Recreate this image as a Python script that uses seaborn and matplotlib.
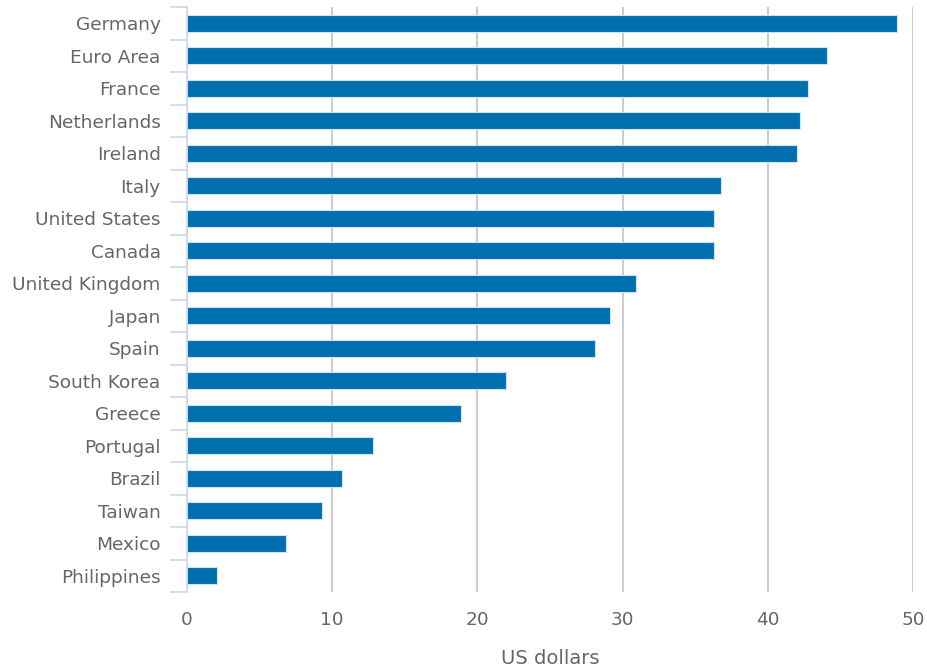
import numpy as np
import pandas as pd
import matplotlib
matplotlib.use("Agg")
import matplotlib.pyplot as plt
import seaborn as sns

countries = ["Germany", "Euro Area", "France", "Netherlands", "Ireland", "Italy",
             "United States", "Canada", "United Kingdom", "Japan", "Spain",
             "South Korea", "Greece", "Portugal", "Brazil", "Taiwan", "Mexico",
             "Philippines"]
values = [48.9, 44.1, 42.8, 42.2, 42.0, 36.8, 36.3, 36.3, 30.9, 29.1, 28.1,
          22.0, 18.9, 12.8, 10.7, 9.3, 6.8, 2.1]
x_ticks = [0, 10, 20, 30, 40, 50]

df = pd.DataFrame({"country": countries, "usd": values})

sns.set_style("white")
plt.rcParams["font.family"] = ["DejaVu Sans"]

fig = plt.figure(figsize=(9.27, 6.7), dpi=100)
ax = fig.add_axes([187 / 927, 1 - 592 / 670, (913 - 187) / 927, (592 - 7) / 670])

sns.barplot(data=df, x="usd", y="country", orient="h", color="#006fb0",
            saturation=1, width=0.52, edgecolor="#cfe3f2", linewidth=0.8, ax=ax, zorder=3)

ax.set_xlim(0, 50)
ax.set_ylim(len(countries) - 0.5, -0.5)
ax.set_xticks(x_ticks)
ax.xaxis.grid(True, color="#cccccc", linewidth=1.5, zorder=0)
ax.set_axisbelow(True)

for side in ["top", "right", "bottom"]:
    ax.spines[side].set_visible(False)
ax.spines["left"].set_color("#ccd6eb")
ax.spines["left"].set_linewidth(1.2)
ax.spines["left"].set_zorder(4)

# category boundary tick marks, like the original
ax.set_yticks(np.arange(-0.5, len(countries), 1), minor=True)
ax.tick_params(axis="y", which="major", left=False, length=0, pad=19,
               labelsize=13.3, labelcolor="#666666")
ax.tick_params(axis="y", which="minor", left=True, length=12, width=1.2, color="#ccd6eb")
ax.tick_params(axis="x", length=0, pad=14, labelsize=13.3, labelcolor="#666666")

ax.set_ylabel("")
ax.set_xlabel("US dollars", fontsize=14, color="#666666", labelpad=14)

fig.savefig("out.png", dpi=100)
